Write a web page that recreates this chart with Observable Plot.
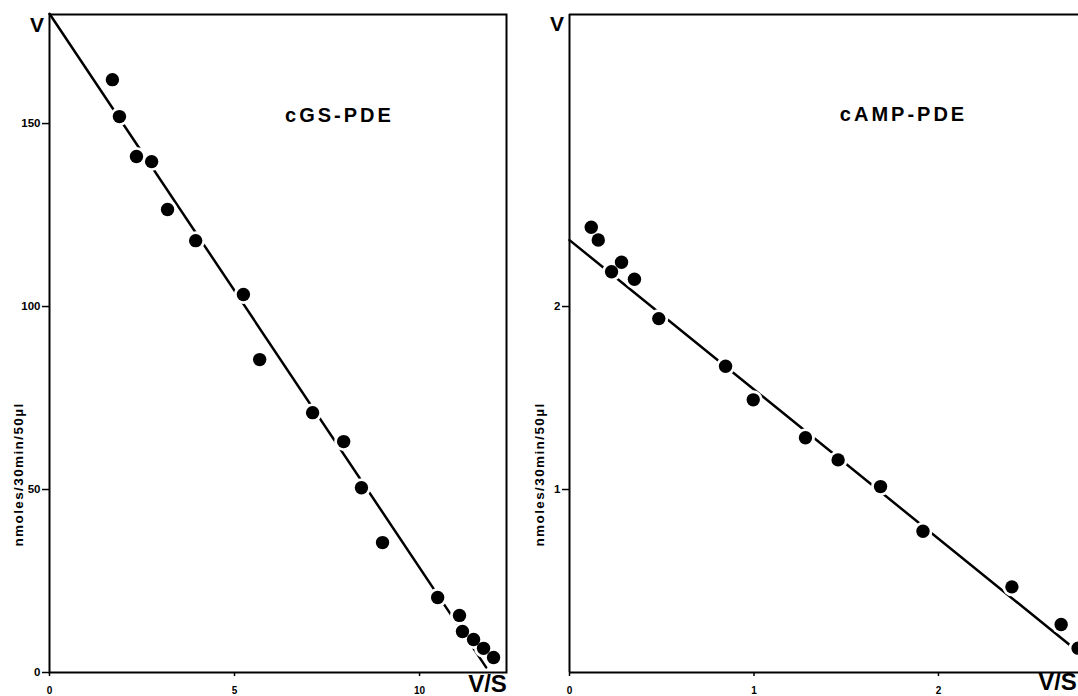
<!DOCTYPE html>
<html>
<head>
<meta charset="utf-8">
<script src="https://cdn.jsdelivr.net/npm/d3@7"></script>
<script src="https://cdn.jsdelivr.net/npm/@observablehq/plot@0.6"></script>
<style>
  html, body { margin: 0; padding: 0; background: white; overflow: hidden; }
  #wrap { position: relative; width: 1078px; height: 696px; overflow: hidden; }
  #wrap > svg { position: absolute; top: 0; overflow: hidden; }
</style>
</head>
<body>
<div id="wrap"></div>
<script>
// ---- Left panel: cGS-PDE (Eadie–Hofstee plot) ----
const cgsTitle = "cGS-PDE";
const cgsVS = [1.70, 1.89, 2.35, 2.76, 3.19, 3.95, 5.24, 5.68, 7.11, 7.95, 8.43, 9.00, 10.49, 11.08, 11.16, 11.46, 11.73, 12.00];
const cgsV  = [162.0, 151.9, 141.0, 139.6, 126.5, 118.0, 103.3, 85.5, 71.0, 63.1, 50.5, 35.5, 20.5, 15.6, 11.2, 9.0, 6.6, 4.1];
const cgsFitVS = [0, 11.8];
const cgsFitV  = [180, 1.4];
const cgsXTicks = [0, 5, 10];
const cgsYTicks = [0, 50, 100, 150];

// ---- Right panel: cAMP-PDE ----
const campTitle = "cAMP-PDE";
const campVS = [0.118, 0.156, 0.228, 0.282, 0.352, 0.484, 0.846, 0.996, 1.279, 1.456, 1.686, 1.916, 2.398, 2.665, 2.757];
const campV  = [2.433, 2.364, 2.190, 2.242, 2.149, 1.934, 1.674, 1.490, 1.283, 1.162, 1.016, 0.772, 0.468, 0.262, 0.133];
const campFitVS = [0, 2.76];
const campFitV  = [2.363, 0.111];
const campXTicks = [0, 1, 2];
const campYTicks = [1, 2];

const yLabel = "nmoles/30min/50µl";
const FONT = "'Liberation Sans', Arial, Helvetica, sans-serif";

function panel({title, vs, v, fitVS, fitV, xTicks, yTicks, xDomain, yDomain, width, marginLeft, marginRight, fullFrame, titleDx, titleDy, vDy, vsDx, vsDy, ylabDx}) {
  const pts = vs.map((d, i) => ({x: d, y: v[i]}));
  const fit = fitVS.map((d, i) => ({x: d, y: fitV[i]}));
  const marks = [
    Plot.line(fit, {x: "x", y: "y", stroke: "black", strokeWidth: 2.5}),
    Plot.dot(pts, {x: "x", y: "y", r: 9.5, fill: "white"}),
    Plot.dot(pts, {x: "x", y: "y", r: 6.7, fill: "black"}),
    Plot.axisX(xTicks, {tickSize: 4, tickPadding: 10, fontSize: 10, strokeWidth: 1.5, label: null, tickFormat: d => String(d)}),
    Plot.axisY(yTicks, {tickSize: 7, tickPadding: 2, fontSize: 11.5, strokeWidth: 1.5, label: null, tickFormat: d => String(d)}),
    Plot.text([title], {frameAnchor: "top-left", dx: titleDx, dy: titleDy, fontSize: 20, fontWeight: "bold", textAnchor: "middle", lineAnchor: "middle"}),
    Plot.text(["V"], {frameAnchor: "top-left", dx: -12.5, dy: vDy, fontSize: 21, fontWeight: "bold", textAnchor: "middle", lineAnchor: "middle"}),
    Plot.text(["V/S"], {frameAnchor: "bottom-right", dx: vsDx, dy: vsDy, fontSize: 24, fontWeight: "bold", textAnchor: "middle", lineAnchor: "middle"}),
    Plot.text([yLabel], {frameAnchor: "left", dx: ylabDx, dy: 131, rotate: -90, fontSize: 13.5, fontWeight: "bold", textAnchor: "middle", lineAnchor: "middle"})
  ];
  if (fullFrame) {
    marks.push(Plot.frame({stroke: "black", strokeWidth: 2}));
  } else {
    marks.push(Plot.ruleX([xDomain[0]], {stroke: "black", strokeWidth: 2}));
    marks.push(Plot.ruleY([yDomain[0]], {stroke: "black", strokeWidth: 2}));
    marks.push(Plot.ruleY([yDomain[1]], {stroke: "black", strokeWidth: 2}));
  }
  const svg = Plot.plot({
    width, height: 696,
    marginLeft, marginRight, marginTop: 14, marginBottom: 24,
    x: {domain: xDomain},
    y: {domain: yDomain},
    style: `font-family: ${FONT}; font-weight: bold; color: black; background: transparent; overflow: hidden;`,
    marks
  });
  d3.select(svg).selectAll("text")
    .filter(function() { return this.textContent.includes("PDE"); })
    .style("letter-spacing", "3px");
  d3.select(svg).selectAll("text")
    .filter(function() { return this.textContent === yLabel; })
    .style("letter-spacing", "1.4px");
  return svg;
}

const wrap = document.getElementById("wrap");

const left = panel({
  title: cgsTitle, vs: cgsVS, v: cgsV, fitVS: cgsFitVS, fitV: cgsFitV,
  xTicks: cgsXTicks, yTicks: cgsYTicks,
  xDomain: [0, 12.35], yDomain: [0, 179.8],
  width: 530, marginLeft: 49, marginRight: 24, fullFrame: true,
  titleDx: 290, titleDy: 101.5, vDy: 11, vsDx: -19, vsDy: 12, ylabDx: -31
});
left.style.left = "0px";
wrap.appendChild(left);

const right = panel({
  title: campTitle, vs: campVS, v: campV, fitVS: campFitVS, fitV: campFitV,
  xTicks: campXTicks, yTicks: campYTicks,
  xDomain: [0, 2.759], yDomain: [0, 3.596],
  width: 558, marginLeft: 49, marginRight: 0, fullFrame: false,
  titleDx: 334, titleDy: 100.5, vDy: 9.5, vsDx: -21, vsDy: 10, ylabDx: -30
});
right.style.left = "520px";
wrap.appendChild(right);
</script>
</body>
</html>
